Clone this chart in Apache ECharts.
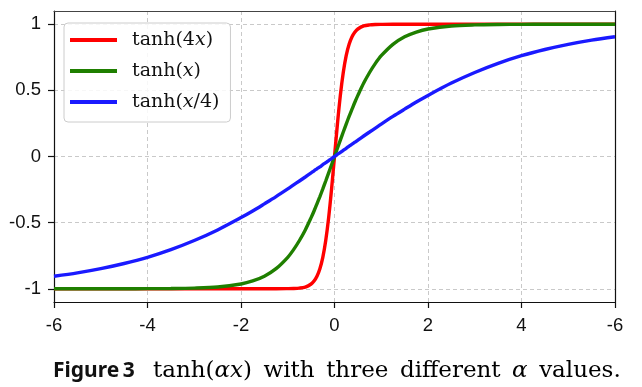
<!DOCTYPE html>
<html><head><meta charset="utf-8">
<script src="https://cdn.jsdelivr.net/npm/echarts@6/dist/echarts.min.js"></script>
<style>html,body{margin:0;padding:0;background:#fff}#c{width:642px;height:387px}</style>
</head><body><div id="c"></div>
<script>
const xValues = [-6,-5.5,-5,-4.5,-4,-3.5,-3,-2.5,-2,-1.75,-1.5,-1.25,-1,-0.875,-0.75,-0.625,-0.5,-0.4375,-0.375,-0.3125,-0.25,-0.1875,-0.125,-0.0625,0,
  0.0625,0.125,0.1875,0.25,0.3125,0.375,0.4375,0.5,0.625,0.75,0.875,1,1.25,1.5,1.75,2,2.5,3,3.5,4,4.5,5,5.5,6];
const tanh4x = [-1,-1,-1,-1,-1,-1,-1,-1,-1,-1,-1,-1,-0.999,-0.998,-0.995,-0.987,-0.964,-0.941,-0.905,-0.848,-0.762,-0.635,-0.462,-0.245,0,
  0.245,0.462,0.635,0.762,0.848,0.905,0.941,0.964,0.987,0.995,0.998,0.999,1,1,1,1,1,1,1,1,1,1,1,1];
const tanhx = [-1,-1,-1,-1,-0.999,-0.998,-0.995,-0.987,-0.964,-0.941,-0.905,-0.848,-0.762,-0.704,-0.635,-0.555,-0.462,-0.412,-0.358,-0.303,-0.245,-0.185,-0.124,-0.062,0,
  0.062,0.124,0.185,0.245,0.303,0.358,0.412,0.462,0.555,0.635,0.704,0.762,0.848,0.905,0.941,0.964,0.987,0.995,0.998,0.999,1,1,1,1];
const tanhx4 = [-0.905,-0.880,-0.848,-0.809,-0.762,-0.704,-0.635,-0.555,-0.462,-0.412,-0.358,-0.303,-0.245,-0.215,-0.185,-0.155,-0.124,-0.108,-0.093,-0.078,-0.062,-0.047,-0.031,-0.016,0,
  0.016,0.031,0.047,0.062,0.078,0.093,0.108,0.124,0.155,0.185,0.215,0.245,0.303,0.358,0.412,0.462,0.555,0.635,0.704,0.762,0.809,0.848,0.880,0.905];
const xTickLabels = ['-6','-4','-2','0','2','4','-6'];
const yTickValues = [-1,-0.5,0,0.5,1];
const yTickLabels = ['-1','-0.5','0','0.5','1'];
const seriesNames = ['tanh(4x)','tanh(x)','tanh(x/4)'];

const pair = arr => xValues.map((x,i)=>[x,arr[i]]);
const chart = echarts.init(document.getElementById('c'), null, {renderer:'canvas'});
const serif = 'DejaVu Serif';
const sans = 'Liberation Sans';
const grid = {lineStyle:{color:'#c9c9c9', type:[4,3], width:1}};
const legendFmt = {
  'tanh(4x)': '{r|tanh(4}{i|x}{r|)}',
  'tanh(x)': '{r|tanh(}{i|x}{r|)}',
  'tanh(x/4)': '{r|tanh(}{i|x}{r|/4)}'
};
const sp = '\u2002';
chart.setOption({
  animation:false,
  grid:{left:54, right:27, top:11, bottom:85, containLabel:false},
  xAxis:[{
    type:'value', min:-6, max:6, interval:2,
    axisLine:{show:true, onZero:false, lineStyle:{color:'#111', width:1.2}},
    axisTick:{show:true, length:6, lineStyle:{color:'#111', width:1.2}},
    axisLabel:{fontFamily:sans, fontSize:18.5, color:'#111', margin:14,
      formatter:v=>xTickLabels[Math.round((v+6)/2)]},
    splitLine:{show:true, ...grid}
  },{
    type:'value', min:-6, max:6, position:'top',
    axisLine:{show:true, onZero:false, lineStyle:{color:'#444', width:1.2}},
    axisTick:{show:false}, axisLabel:{show:false}, splitLine:{show:false}
  }],
  yAxis:[{
    type:'value', min:-1.1, max:1.1, splitNumber:4,
    axisLine:{show:true, onZero:false, lineStyle:{color:'#111', width:1.2}},
    axisTick:{show:true, length:6, customValues:yTickValues, lineStyle:{color:'#111', width:1.2}},
    axisLabel:{fontFamily:sans, fontSize:18.5, color:'#111', margin:13, customValues:yTickValues,
      formatter:v=>{const i=yTickValues.findIndex(t=>Math.abs(t-v)<1e-6); return i>=0?yTickLabels[i]:'';}},
    splitLine:{show:true, ...grid}
  },{
    type:'value', min:-1.1, max:1.1, position:'right',
    axisLine:{show:true, onZero:false, lineStyle:{color:'#111', width:1.2}},
    axisTick:{show:false}, axisLabel:{show:false}, splitLine:{show:false}
  }],
  legend:{
    orient:'vertical', left:64, top:23,
    data:seriesNames,
    icon:'rect', itemWidth:47, itemHeight:4, itemGap:9,
    padding:[6,11,9,6],
    backgroundColor:'rgba(255,255,255,0.85)', borderColor:'#cccccc', borderWidth:1, borderRadius:4,
    formatter:n=>legendFmt[n],
    textStyle:{padding:[0,0,0,10], lineHeight:22,
      rich:{r:{fontFamily:serif, fontSize:19, color:'#111', lineHeight:22},
            i:{fontFamily:serif, fontSize:19, fontStyle:'italic', color:'#111', lineHeight:22}}}
  },
  series:[
    {name:seriesNames[0], type:'line', data:pair(tanh4x), showSymbol:false, smooth:0.3, lineStyle:{color:'#ff0000', width:3.4}, itemStyle:{color:'#ff0000'}, z:3},
    {name:seriesNames[1], type:'line', data:pair(tanhx), showSymbol:false, smooth:0.3, lineStyle:{color:'#1f7f00', width:3.4}, itemStyle:{color:'#1f7f00'}, z:4},
    {name:seriesNames[2], type:'line', data:pair(tanhx4), showSymbol:false, smooth:0.3, lineStyle:{color:'#1a1aff', width:3.4}, itemStyle:{color:'#1a1aff'}, z:5}
  ],
  graphic:[{
    type:'text', left:53, top:361,
    style:{text:'Figure\u20093', fontFamily:'Noto Sans', fontWeight:'bold', fontSize:21, fill:'#111'}
  },{
    type:'text', left:153, top:360,
    style:{
      text:'{r|tanh(}{i|αx}{r|)'+sp+'with'+sp+'three'+sp+'different'+sp+'}{i|α}{r|'+sp+'values.}',
      rich:{
        r:{fontFamily:serif, fontSize:23, color:'#111'},
        i:{fontFamily:serif, fontSize:23, fontStyle:'italic', color:'#111'}
      }
    }
  }]
});
</script></body></html>
